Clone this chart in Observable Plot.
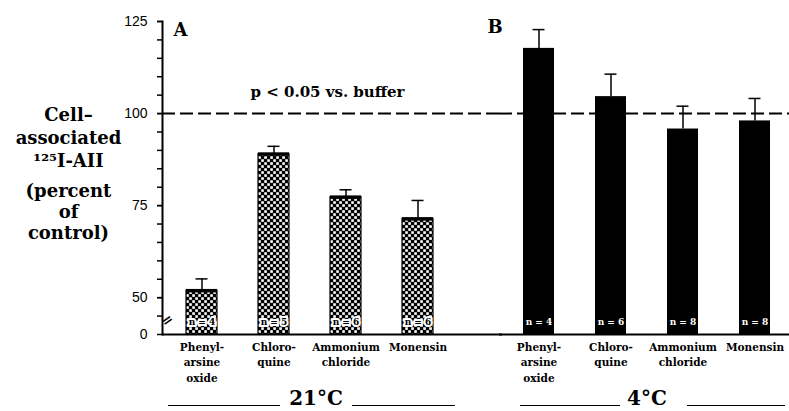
<!DOCTYPE html>
<html><head><meta charset="utf-8">
<script src="https://cdn.jsdelivr.net/npm/d3@7"></script>
<script src="https://cdn.jsdelivr.net/npm/@observablehq/plot@0.6"></script>
<style>body{margin:0;background:#fff} #chart{width:789px;height:411px;overflow:hidden}</style>
</head><body><div id="chart"></div>
<script>
// ---- data ----
const panels = ["A", "B"];
const temperatures = ["21°C", "4°C"];
const treatments = ["Phenyl-\narsine\noxide", "Chloro-\nquine", "Ammonium\nchloride", "Monensin"];
const meanA = [51.9, 89.0, 77.3, 71.4];
const errA = [3.2, 2.1, 2.0, 5.0];
const nA = [4, 5, 6, 6];
const meanB = [117.7, 104.6, 95.8, 98.0];
const errB = [5.1, 6.1, 6.2, 6.1];
const nB = [4, 6, 8, 8];
const yTickLabels = [0, 50, 75, 100, 125];
const yMinorTicks = [45, 50, 55, 60, 65, 70, 75, 80, 85, 90, 95, 100, 105, 110, 115, 120, 125];
const yBreakFloor = 40; // broken axis: the baseline (labelled 0) sits where 40 would be
const reference = 100;
const refLabel = "p < 0.05 vs. buffer";
const yTitle1 = "Cell–\nassociated\n¹²⁵I-AII";
const yTitle2 = "(percent\nof\ncontrol)";

const means = [meanA, meanB], errs = [errA, errB], ns = [nA, nB];
const rows = panels.flatMap((p, k) => treatments.map((t, i) => ({
  panel: p, treatment: t, mean: means[k][i], err: errs[k][i], n: ns[k][i]
})));
const rowsA = rows.filter(d => d.panel === "A");
const rowsB = rows.filter(d => d.panel === "B");
const pA = [{panel: "A"}], pB = [{panel: "B"}];

const serif = "DejaVu Serif";
const svg = Plot.plot({
  width: 789, height: 411,
  marginLeft: 162, marginRight: -5, marginTop: 21, marginBottom: 77,
  style: {fontFamily: serif, fontWeight: "bold", color: "black", background: "white"},
  fx: {domain: panels, paddingInner: 42 / 337, paddingOuter: 0, axis: null, label: null},
  x: {domain: treatments, paddingInner: 0.57, paddingOuter: 0.33, label: null},
  y: {domain: [yBreakFloor, 125], clamp: true, label: null},
  marks: [
    Plot.barY(rowsA, {fx: "panel", x: "treatment", y: "mean", fill: "url(#checker)", stroke: "black", strokeWidth: 1.2}),
    Plot.barY(rowsB, {fx: "panel", x: "treatment", y: "mean", fill: "black"}),
    Plot.tickY(rowsA, {fx: "panel", x: "treatment", y: "mean", strokeWidth: 3.5}),
    Plot.ruleX(rows, {fx: "panel", x: "treatment", y1: "mean", y2: d => d.mean + d.err, strokeWidth: 1.5}),
    Plot.tickY(rows, {fx: "panel", x: "treatment", y: d => d.mean + d.err, insetLeft: 9.5, insetRight: 9.5, strokeWidth: 1.5}),
    Plot.text(rowsA, {fx: "panel", x: "treatment", frameAnchor: "bottom", lineAnchor: "middle", dy: -12,
      text: d => `n = ${d.n}`, fill: "black", stroke: "white", strokeWidth: 4, fontSize: 9}),
    Plot.text(rowsB, {fx: "panel", x: "treatment", frameAnchor: "bottom", lineAnchor: "middle", dy: -12,
      text: d => `n = ${d.n}`, fill: "white", fontSize: 9}),
    Plot.ruleY([0], {strokeWidth: 2, insetRight: -45}),
    Plot.ruleY([reference], {strokeWidth: 2, strokeDasharray: "13,5", insetRight: -45}),
    Plot.frame({anchor: "left", facetAnchor: "left", strokeWidth: 2}),
    Plot.axisY(yMinorTicks, {tickSize: 5, strokeWidth: 1.5, tickFormat: () => "", label: null}),
    Plot.axisY(yTickLabels, {tickSize: 5, strokeWidth: 1.5, tickPadding: 10, fontFamily: "Liberation Sans",
      fontWeight: "normal", fontSize: 14, letterSpacing: 1.5, label: null}),
    Plot.axisX({tickSize: 0, tickPadding: 5, fontSize: 10.5, lineHeight: 1.5, label: null}),
    Plot.text(pA, {fx: "panel", text: "panel", frameAnchor: "top-left", lineAnchor: "middle", dx: 11, dy: 9,
      textAnchor: "start", fontSize: 18}),
    Plot.text(pB, {fx: "panel", text: "panel", frameAnchor: "top-left", lineAnchor: "middle", dx: -12, dy: 6,
      textAnchor: "start", fontSize: 18}),
    Plot.text(pA, {fx: "panel", y: () => reference, text: () => refLabel, frameAnchor: "left", dx: 88, dy: -21,
      textAnchor: "start", fontSize: 15}),
    Plot.text(pA, {fx: "panel", text: () => yTitle1, frameAnchor: "top-left", lineAnchor: "middle", dx: -94, dy: 115,
      lineHeight: 1.3, fontSize: 18, letterSpacing: 3, textAnchor: "middle"}),
    Plot.text(pA, {fx: "panel", text: () => yTitle2, frameAnchor: "top-left", lineAnchor: "middle", dx: -94, dy: 190,
      lineHeight: 1.17, fontSize: 18, letterSpacing: 3, textAnchor: "middle"}),
    Plot.text(pA, {fx: "panel", text: () => "=", frameAnchor: "bottom-left", lineAnchor: "middle", dy: -11,
      rotate: -35, fontSize: 14}),
    Plot.text(pA, {fx: "panel", text: () => temperatures[0], frameAnchor: "bottom", lineAnchor: "middle", dx: 6, dy: 64, fontSize: 20}),
    Plot.text(pB, {fx: "panel", text: () => temperatures[1], frameAnchor: "bottom", lineAnchor: "middle", dx: 0, dy: 64, fontSize: 20}),
    Plot.ruleY(pA, {fx: "panel", y: () => 0, dy: 71, insetLeft: 6, insetRight: 177, strokeWidth: 1.2}),
    Plot.ruleY(pA, {fx: "panel", y: () => 0, dy: 71, insetLeft: 190, insetRight: 2, strokeWidth: 1.2}),
    Plot.ruleY(pB, {fx: "panel", y: () => 0, dy: 71, insetLeft: 21, insetRight: 174, strokeWidth: 1.2}),
    Plot.ruleY(pB, {fx: "panel", y: () => 0, dy: 71, insetLeft: 188, insetRight: 9, strokeWidth: 1.2})
  ]
});
const defs = d3.select(svg).insert("defs", ":first-child");
const pat = defs.append("pattern").attr("id", "checker").attr("width", 6).attr("height", 6)
  .attr("patternUnits", "userSpaceOnUse");
pat.append("rect").attr("width", 6).attr("height", 6).attr("fill", "black");
pat.append("rect").attr("x", 0.25).attr("y", 0.25).attr("width", 2.6).attr("height", 2.6).attr("fill", "white");
pat.append("rect").attr("x", 3.25).attr("y", 3.25).attr("width", 2.6).attr("height", 2.6).attr("fill", "white");
document.getElementById("chart").appendChild(svg);
</script>
</body></html>
